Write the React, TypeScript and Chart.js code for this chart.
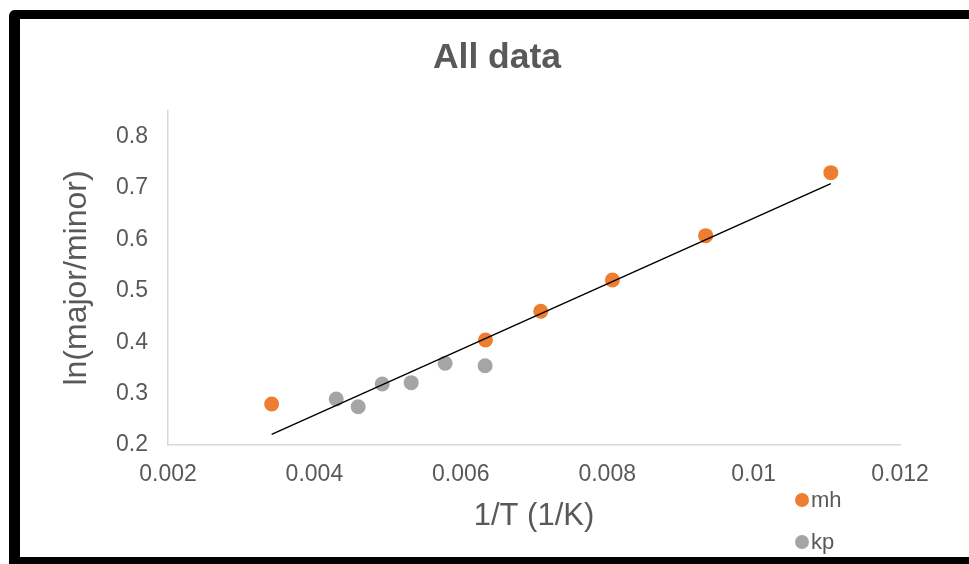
import React, { useEffect, useRef } from "react";
import { Chart, registerables } from "chart.js";

Chart.register(...registerables);

// ---------- data ----------
const CHART_TITLE = "All data";
const X_TITLE = "1/T (1/K)";
const Y_TITLE = "ln(major/minor)";

const MH_NAME = "mh";
const MH_X = [0.003416, 0.006337, 0.007092, 0.008071, 0.009345, 0.011055];
const MH_Y = [0.2798, 0.4044, 0.4602, 0.5211, 0.6074, 0.730];

const KP_NAME = "kp";
const KP_X = [0.004298, 0.004598, 0.004926, 0.005322, 0.005786, 0.006332];
const KP_Y = [0.2895, 0.2745, 0.3187, 0.3213, 0.359, 0.3543];

const X_TICKS = [0.002, 0.004, 0.006, 0.008, 0.01, 0.012];
const X_TICK_LABELS = ["0.002", "0.004", "0.006", "0.008", "0.01", "0.012"];
const Y_TICKS = [0.2, 0.3, 0.4, 0.5, 0.6, 0.7, 0.8];
const Y_TICK_LABELS = ["0.2", "0.3", "0.4", "0.5", "0.6", "0.7", "0.8"];
const X_MIN = 0.002;
const X_MAX = 0.012;
const Y_MIN = 0.2;
const Y_MAX = 0.85;

// ---------- styles ----------
const FONT = "'Liberation Sans', Arial, sans-serif";
const TEXT = "#595959";
const AXIS = "#d9d9d9";
const ORANGE = "#ED7D31";
const GRAY = "#A5A5A5";

function linearFit(xs: number[], ys: number[]) {
  const n = xs.length;
  const mx = xs.reduce((a, b) => a + b, 0) / n;
  const my = ys.reduce((a, b) => a + b, 0) / n;
  let sxy = 0;
  let sxx = 0;
  for (let i = 0; i < n; i++) {
    sxy += (xs[i] - mx) * (ys[i] - my);
    sxx += (xs[i] - mx) * (xs[i] - mx);
  }
  const m = sxy / sxx;
  return { m, b: my - m * mx };
}

const decorPlugin = {
  id: "excelDecor",
  afterDraw(chart: any) {
    const ctx = chart.ctx as CanvasRenderingContext2D;
    ctx.save();
    // title
    ctx.fillStyle = TEXT;
    ctx.font = `bold 35.5px ${FONT}`;
    ctx.textAlign = "center";
    ctx.textBaseline = "alphabetic";
    ctx.fillText(CHART_TITLE, 497, 67.5);
    // legend (vertical, bottom right)
    const items = chart.data.datasets.filter((d: any) => d.inLegend);
    items.forEach((d: any, i: number) => {
      const cy = 500 + i * 42;
      ctx.beginPath();
      ctx.fillStyle = d.backgroundColor;
      ctx.arc(802, cy, 7, 0, Math.PI * 2);
      ctx.fill();
      ctx.fillStyle = TEXT;
      ctx.font = `22px ${FONT}`;
      ctx.textAlign = "left";
      ctx.fillText(d.label, 811, cy + 7);
    });
    ctx.restore();
  },
};

export default function App() {
  const ref = useRef<HTMLCanvasElement>(null);

  useEffect(() => {
    const allX = [...MH_X, ...KP_X];
    const allY = [...MH_Y, ...KP_Y];
    const fit = linearFit(allX, allY);
    const x0 = Math.min(...allX);
    const x1 = Math.max(...allX);

    const chart = new Chart(ref.current as HTMLCanvasElement, {
      type: "scatter",
      data: {
        datasets: [
          {
            label: "Linear (All data)",
            data: [
              { x: x0, y: fit.b + fit.m * x0 },
              { x: x1, y: fit.b + fit.m * x1 },
            ],
            showLine: true,
            borderColor: "#000000",
            backgroundColor: "#000000",
            borderWidth: 1.5,
            pointRadius: 0,
            order: 0,
          } as any,
          {
            label: MH_NAME,
            inLegend: true,
            data: MH_X.map((x, i) => ({ x, y: MH_Y[i] })),
            backgroundColor: ORANGE,
            borderColor: ORANGE,
            borderWidth: 0,
            pointRadius: 7.5,
            order: 1,
          } as any,
          {
            label: KP_NAME,
            inLegend: true,
            data: KP_X.map((x, i) => ({ x, y: KP_Y[i] })),
            backgroundColor: GRAY,
            borderColor: GRAY,
            borderWidth: 0,
            pointRadius: 7.5,
            order: 2,
          } as any,
        ],
      },
      options: {
        responsive: false,
        animation: false,
        devicePixelRatio: 1,
        layout: { padding: { top: 111, left: 20, right: 69, bottom: 0 } },
        plugins: {
          legend: { display: false },
          title: { display: false },
          tooltip: { enabled: false },
        },
        scales: {
          x: {
            type: "linear",
            min: X_MIN,
            max: X_MAX,
            grid: { display: false, drawTicks: false },
            border: { display: true, color: AXIS, width: 1.5 },
            afterBuildTicks: (s: any) => {
              s.ticks = X_TICKS.map((v) => ({ value: v }));
            },
            afterFit: (s: any) => {
              s.height = 119;
            },
            ticks: {
              color: TEXT,
              font: { family: FONT, size: 23 },
              padding: 16,
              autoSkip: false,
              maxRotation: 0,
              callback: (_v: any, i: number) => X_TICK_LABELS[i],
            },
            title: {
              display: true,
              text: X_TITLE,
              color: TEXT,
              font: { family: FONT, size: 31 },
              padding: { top: 0, bottom: 29 },
            },
          },
          y: {
            type: "linear",
            min: Y_MIN,
            max: Y_MAX,
            grid: { display: false, drawTicks: false },
            border: { display: true, color: AXIS, width: 1.5 },
            afterBuildTicks: (s: any) => {
              s.ticks = Y_TICKS.map((v) => ({ value: v }));
            },
            afterFit: (s: any) => {
              s.width = 148;
            },
            ticks: {
              color: TEXT,
              font: { family: FONT, size: 23 },
              padding: 20,
              autoSkip: false,
              callback: (_v: any, i: number) => Y_TICK_LABELS[i],
            },
            title: {
              display: true,
              text: Y_TITLE,
              color: TEXT,
              font: { family: FONT, size: 32 },
              padding: { top: 38, bottom: 0 },
            },
          },
        },
      },
      plugins: [decorPlugin],
    });
    return () => chart.destroy();
  }, []);

  return (
    <div
      style={{
        position: "fixed",
        left: 0,
        top: 0,
        width: 969,
        height: 564,
        overflow: "hidden",
        background: "#ffffff",
      }}
    >
      <div
        style={{
          position: "absolute",
          left: 9,
          top: 10,
          width: 1000,
          height: 559,
          boxSizing: "border-box",
          borderLeft: "11px solid #000",
          borderTop: "9px solid #000",
          borderBottom: "12px solid #000",
          borderRadius: 6,
          background: "#ffffff",
        }}
      />
      <canvas
        ref={ref}
        width={969}
        height={564}
        style={{ position: "absolute", left: 0, top: 0, width: 969, height: 564 }}
      />
    </div>
  );
}
